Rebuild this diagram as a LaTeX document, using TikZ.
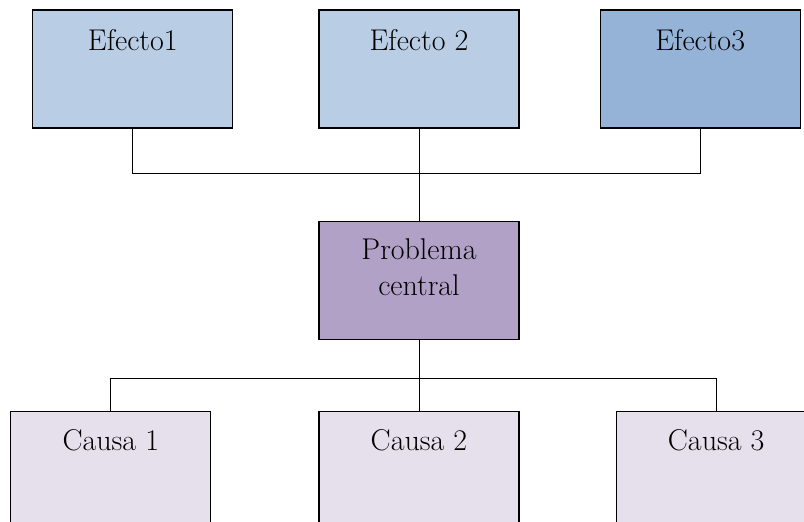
\documentclass[tikz,border=0pt]{standalone}
\usepackage{xcolor}
\usepackage{tikz}
\usetikzlibrary{positioning}
\definecolor{azulclaro}{RGB}{185,205,229}
\definecolor{azulmedio}{RGB}{149,179,215}
\definecolor{lila}{RGB}{178,161,199}
\definecolor{lilaclaro}{RGB}{229,224,236}
\tikzstyle{caja} = [rectangle, draw=black, line width=1.2pt, minimum width=200pt, inner sep=0pt, text centered, font=\fontsize{30}{36}\selectfont]
\tikzstyle{efecto} = [caja, fill=azulclaro, text height=41pt, text depth=77pt]
\tikzstyle{causa} = [caja, fill=lilaclaro, text height=39pt, text depth=79pt]
\tikzstyle{problema} = [caja, fill=lila, align=center, text height=74pt, text depth=44pt]
\tikzstyle{linea} = [line width=1pt]

\begin{document}
\begin{tikzpicture}[x=1pt, y=1pt]
    \path [use as bounding box, clip] (0,0) rectangle (804,522);

    % Efectos
    \node (ef2) [efecto] at (419,453) {Efecto 2};
    \node (ef1) [efecto, left=85pt of ef2] {Efecto1};
    \node (ef3) [efecto, fill=azulmedio, right=80pt of ef2] {Efecto3};

    % Problema
    \node (prob) [problema, below=92pt of ef2] {Problema\\central};

    % Causas
    \node (causa2) [causa, below=71pt of prob] {Causa 2};
    \node (causa1) [causa, left=107pt of causa2] {Causa 1};
    \node (causa3) [causa, right=96pt of causa2] {Causa 3};

    % Lineas
    \draw [linea] (ef1.south) -- ++(0,-45) -| (ef3.south);
    \draw [linea] (ef2.south) -- (prob.north);
    \draw [linea] (prob.south) -- (causa2.north);
    \draw [linea] (causa1.north) -- ++(0,32) -| (causa3.north);
\end{tikzpicture}
\end{document}
